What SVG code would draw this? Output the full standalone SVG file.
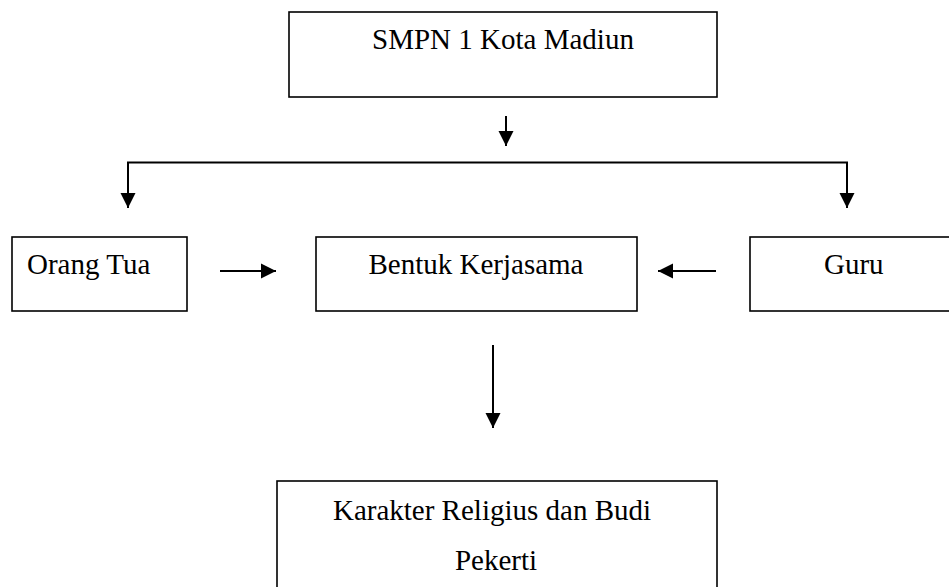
<svg xmlns="http://www.w3.org/2000/svg" width="949" height="587" viewBox="0 0 949 587">
<defs>
<style>
.box{fill:#fff;stroke:#000;stroke-width:1.6}
.lbl{font-family:"Liberation Serif","Times New Roman",serif;font-size:29px;fill:#000}
.c{text-anchor:middle}
.con{fill:none;stroke:#000;stroke-width:2}
</style>
<marker id="ah" markerUnits="userSpaceOnUse" markerWidth="16" markerHeight="16" viewBox="0 0 16 16" refX="15" refY="8" orient="auto">
<path d="M0,0.5 L15,8 L0,15.5 z" fill="#000"/>
</marker>
</defs>
<rect width="949" height="587" fill="#fff"/>
<g id="node-smpn">
<rect class="box" x="289" y="12" width="428" height="85"/>
<text class="lbl c" x="503" y="49">SMPN 1 Kota Madiun</text>
</g>
<g id="node-orangtua">
<rect class="box" x="12" y="237" width="175" height="74"/>
<text class="lbl" x="27" y="274">Orang Tua</text>
</g>
<g id="node-bentuk">
<rect class="box" x="316" y="237" width="321" height="74"/>
<text class="lbl c" x="476" y="274">Bentuk Kerjasama</text>
</g>
<g id="node-guru">
<rect class="box" x="750" y="237" width="207" height="74"/>
<text class="lbl" x="824" y="274">Guru</text>
</g>
<g id="node-karakter">
<rect class="box" x="277" y="481" width="440" height="130"/>
<text class="lbl c" x="492" y="520">Karakter Religius dan Budi</text>
<text class="lbl c" x="496" y="570">Pekerti</text>
</g>
<g id="connectors">
<line class="con" x1="506" y1="116" x2="506" y2="146" marker-end="url(#ah)"/>
<line class="con" x1="127" y1="162.5" x2="848" y2="162.5"/>
<line class="con" x1="128" y1="162.5" x2="128" y2="208" marker-end="url(#ah)"/>
<line class="con" x1="847" y1="162.5" x2="847" y2="208" marker-end="url(#ah)"/>
<line class="con" x1="220" y1="271" x2="276" y2="271" marker-end="url(#ah)"/>
<line class="con" x1="716" y1="271" x2="658" y2="271" marker-end="url(#ah)"/>
<line class="con" x1="493" y1="345" x2="493" y2="428" marker-end="url(#ah)"/>
</g>
</svg>
